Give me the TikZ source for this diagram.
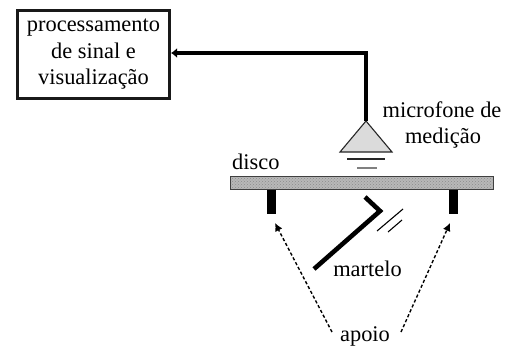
\documentclass[tikz,border=0pt]{standalone}
\usepackage{fontspec}
\setmainfont{Liberation Serif}
\usetikzlibrary{arrows.meta,patterns}
\tikzset{
  lbl/.style={inner sep=0pt,anchor=base,font=\fontsize{22.4}{26.5}\selectfont,text=black},
  boxnode/.style={draw=black!90,line width=3pt,minimum width=152pt,minimum height=88pt,inner sep=0pt,align=center,font=\fontsize{22.4}{26.5}\selectfont,text=black},
  wire/.style={draw=black,line width=3.2pt,-{Latex[length=6pt,width=10pt]}},
  dashedarrow/.style={draw=black,line width=1.4pt,dash pattern=on 3.2pt off 2.2pt,-{Latex[length=8pt,width=8pt]}},
  hammer/.style={draw=black,line width=4.6pt,line join=miter},
  thin line/.style={draw=black,line width=1.1pt},
  support/.style={fill=black,draw=none,minimum width=9.5pt,minimum height=24pt,inner sep=0pt},
}
\begin{document}
\begin{tikzpicture}[x=1pt,y=-1pt]
\useasboundingbox (0,0) rectangle (510,345);
\fill[white] (0,0) rectangle (510,345);
\node[boxnode] (proc) at (93.5,54.5) {processamento\\de sinal e\\visualização};
% microphone
\coordinate (apex) at (366,121);
\coordinate (micL) at (340,152);
\coordinate (micR) at (392,152);
\coordinate (bend) at (366,53);
\filldraw[fill=black!14,draw=black!85,line width=1.1pt,line join=miter] (apex) -- (micL) -- (micR) -- cycle;
\draw[wire] (apex) -- (bend) -- (proc.east |- bend);
\draw[draw=black!85,line width=1.1pt] (347,159) -- (385,159);
\draw[draw=black!50,line width=1.6pt] (357,168) -- (377,168);
% disc
\fill[black!28] (230,176) rectangle (493,189);
\fill[pattern=crosshatch dots,pattern color=black!45] (230,176) rectangle (493,189);
\draw[draw=black!75,line width=1pt] (230,176) rectangle (493,189);
\node[support] (s1) at (271.5,202) {};
\node[support] (s2) at (453.5,202) {};
% hammer
\draw[hammer] (314,269) -- (380,211) -- (365,197);
\draw[thin line] (377,231) -- (403,209);
\draw[thin line] (388,232) -- (402,220);
% labels
\node[lbl] (micA) at (442,117) {microfone de};
\node[lbl] (micB) at (443,143) {medição};
\node[lbl,anchor=base west] (disco) at (232,169) {disco};
\node[lbl] (mart) at (367.5,276) {martelo};
\node[lbl] (apoio) at (365,341) {apoio};
\coordinate (aL) at (332,332);
\coordinate (aR) at (401,332);
\coordinate (tL) at (275,223);
\coordinate (tR) at (450,223);
\draw[dashedarrow] (aL) -- (tL);
\draw[dashedarrow] (aR) -- (tR);
\end{tikzpicture}
\end{document}
